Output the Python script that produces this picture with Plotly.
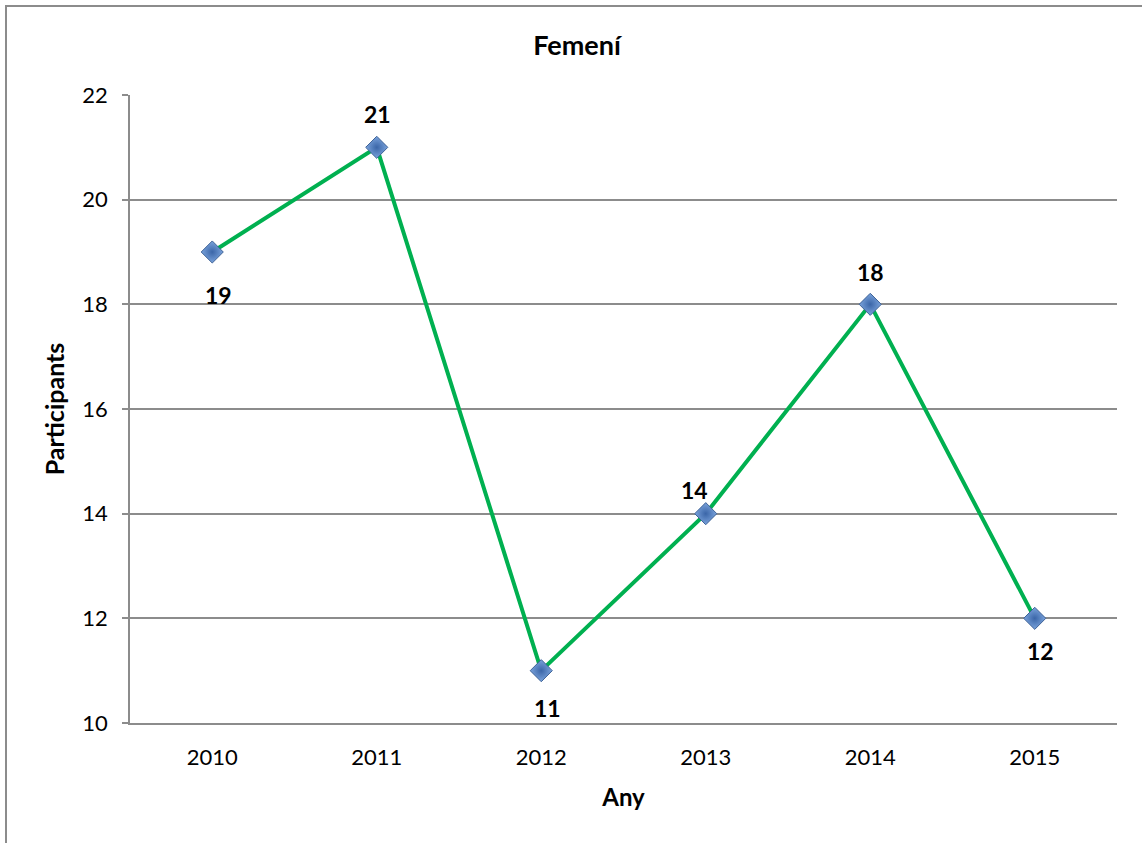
import plotly.graph_objects as go

years = ["2010", "2011", "2012", "2013", "2014", "2015"]
participants = [19, 21, 11, 14, 18, 12]
y_ticks = [10, 12, 14, 16, 18, 20, 22]

# label offsets in pixels (style), as placed in the original chart
label_dx = [6, 1, 6, -11, 0, 6]
label_dy = [-43, 33, -37, 24, 32, -33]

FONT = "Lato, 'Open Sans', sans-serif"
GRID = "#8c8c8c"

L, R, T, B = 130, 25, 95, 120
PW, PH = 1142 - L - R, 843 - T - B

fig = go.Figure()
fig.add_trace(go.Scatter(
    x=years, y=participants,
    mode="lines+markers",
    line=dict(color="#00b050", width=4),
    marker=dict(symbol="diamond", size=17, color="#7aa3dc",
                gradient=dict(type="radial", color="#3b66a8"),
                line=dict(color="#3f6397", width=1)),
    cliponaxis=False,
    showlegend=False,
    hoverinfo="x+y",
))

# category axis: annotations are positioned by category index
annotations = [
    dict(x=i, y=v, xref="x", yref="y", text=f"<b>{v}</b>", showarrow=False,
         xshift=dx, yshift=dy, xanchor="center", yanchor="middle",
         font=dict(family=FONT, size=23, color="#000000"))
    for i, (v, dx, dy) in enumerate(zip(participants, label_dx, label_dy))
]

fig.update_layout(
    width=1142, height=843,
    margin=dict(l=L, r=R, t=T, b=B),
    paper_bgcolor="white", plot_bgcolor="white",
    font=dict(family=FONT, size=22, color="#000000"),
    title=dict(text="<b>Femení</b>", x=577/1142, xanchor="center",
               y=1 - 46/843, yanchor="middle", font=dict(size=27)),
    xaxis=dict(
        type="category", range=[-0.5, 5.5],
        categoryorder="array", categoryarray=years,
        showline=True, linecolor=GRID, linewidth=1.5,
        showgrid=False, ticks="", ticklabelstandoff=14,
        tickfont=dict(size=22),
        title=dict(text="<b>Any</b>", font=dict(size=24), standoff=20),
    ),
    yaxis=dict(
        range=[10, 22], tickvals=y_ticks,
        showline=True, linecolor=GRID, linewidth=1.5,
        showgrid=True, gridcolor=GRID, gridwidth=1.5,
        ticks="outside", ticklen=6, tickcolor=GRID, tickwidth=1.5,
        ticklabelstandoff=10,
        tickfont=dict(size=22),
        zeroline=False,
        title=dict(text="<b>Participants</b>", font=dict(size=25), standoff=11),
    ),
    annotations=annotations,
    shapes=[dict(
        type="rect", xref="paper", yref="paper",
        x0=(6 - L) / PW, x1=(1150 - L) / PW,
        y0=(843 - B - 850) / PH, y1=(843 - B - 6) / PH,
        line=dict(color="#8c8c8c", width=2), fillcolor="rgba(0,0,0,0)",
        layer="below",
    )],
)

fig.write_html("out.html", config={"displayModeBar": False},
               post_script="document.body.style.margin='0';")
